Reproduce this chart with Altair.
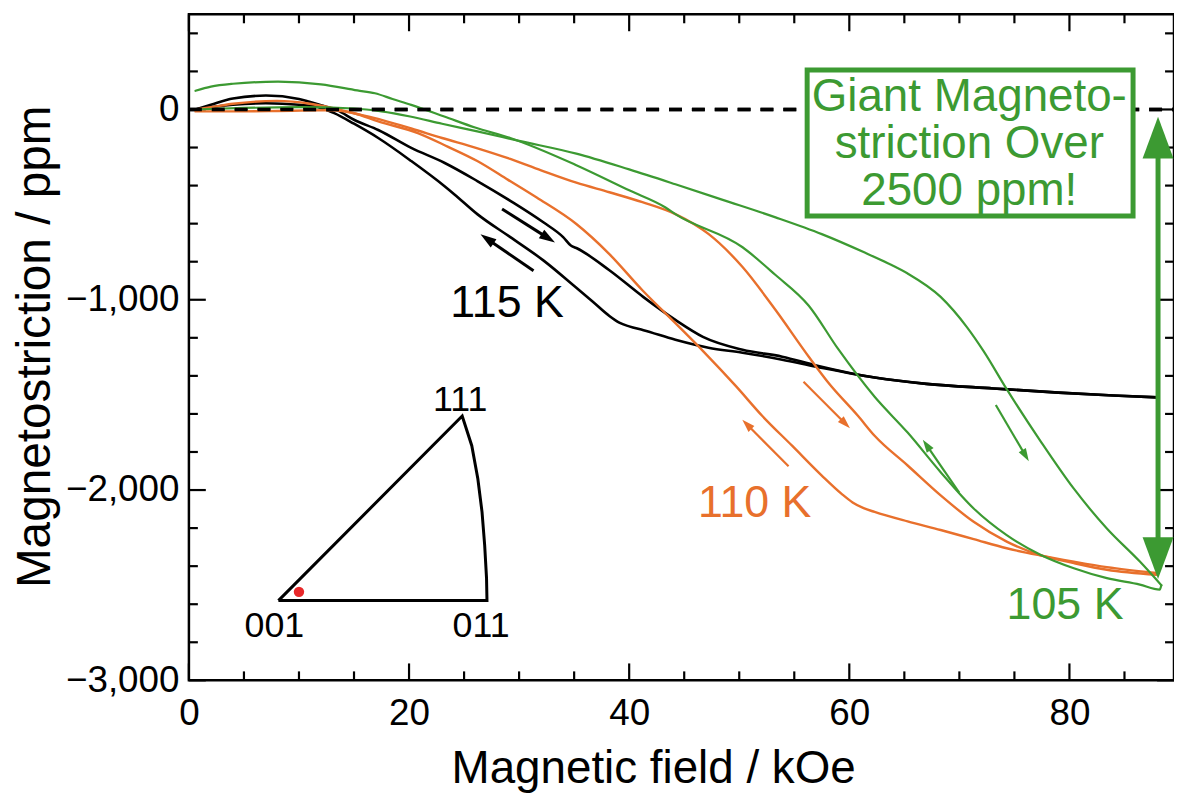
import math
import altair as alt
import pandas as pd

# ---------------- data ----------------
# 115 K, increasing field
K115_UP_X = [0.6, 2, 4, 7, 10, 12, 13.5, 15, 17.2, 20.2, 23.2, 26.2, 29.2, 32.2, 34.0, 34.7, 35.2, 38.2, 41.3, 44.2, 46.7, 50.3, 53.9, 57.0, 62.3, 67.0, 73.1, 79.0, 84.0, 88.0]
K115_UP_Y = [0, 25, 58, 73, 55, 22, -5, -54, -108, -202, -280, -376, -480, -593, -671, -715, -728, -845, -986, -1106, -1195, -1263, -1299, -1345, -1409, -1442, -1466, -1488, -1503, -1513]
# 115 K, decreasing field
K115_DN_X = [0.6, 2, 4, 7, 10, 12, 13.2, 15, 17.2, 20.2, 23.2, 24.1, 26.2, 29.2, 32.2, 35.2, 36.7, 38.2, 39.1, 40.0, 41.3, 44.2, 47.2, 50.3, 53.9, 57.0, 62.3, 67.0, 73.1, 79.0, 84.0, 88.0]
K115_DN_Y = [0, 12, 25, 33, 25, 8, -19, -75, -150, -271, -402, -445, -550, -671, -793, -937, -1010, -1085, -1120, -1140, -1160, -1210, -1252, -1278, -1315, -1352, -1409, -1442, -1466, -1488, -1503, -1513]
# 110 K, increasing field
K110_UP_X = [0.6, 2, 4, 8, 11, 13, 15, 17.5, 20.2, 23, 26, 29.2, 32, 35.2, 38.2, 41.2, 44.2, 47.2, 50.3, 53.3, 56.3, 58.1, 60.8, 62.3, 65.3, 68.3, 71.3, 74.3, 77.3, 80.4, 83.4, 87.9]
K110_UP_Y = [0, 12, 30, 45, 30, 8, -20, -55, -100, -150, -200, -260, -320, -385, -435, -487, -550, -654, -828, -1054, -1298, -1436, -1611, -1715, -1871, -2028, -2167, -2271, -2341, -2384, -2419, -2445]
# 110 K, decreasing field
K110_DN_X = [0.6, 4, 8, 11, 13, 15, 17.2, 20.8, 23.5, 26.2, 29.0, 31.6, 35.2, 38.2, 41.2, 44.2, 46.8, 49.7, 52.1, 54.8, 57.5, 59.3, 60.3, 61.3, 62.3, 65.3, 68.3, 71.3, 74.3, 77.3, 80.4, 83.4, 87.9]
K110_DN_Y = [-10, -10, -8, -5, -4, -20, -63, -124, -195, -271, -370, -463, -602, -760, -950, -1123, -1275, -1454, -1611, -1767, -1924, -2020, -2065, -2095, -2115, -2165, -2210, -2258, -2306, -2343, -2376, -2405, -2436]
# 105 K, increasing field
K105_UP_X = [0.6, 5, 10, 15, 17.5, 20.1, 23, 26.2, 30, 35.2, 40, 44.2, 48.5, 53.3, 57.5, 61.4, 63.5, 65.3, 68.3, 70.7, 72.2, 74.3, 77.4, 80.4, 83.4, 86.4, 88.35]
K105_UP_Y = [0, 8, 12, 5, -10, -37, -75, -115, -165, -232, -315, -393, -475, -567, -655, -752, -808, -862, -985, -1145, -1270, -1470, -1745, -1993, -2202, -2376, -2500]
# 105 K, decreasing field
K105_DN_X = [0.6, 2, 4, 8.1, 12, 15.3, 16.9, 18.5, 20.2, 23.2, 26.0, 29.2, 35.2, 40, 43.3, 44.2, 50.3, 53.3, 56.3, 59.0, 62.3, 65.3, 68.3, 71.3, 74.3, 77.4, 80.4, 83.4, 86.4, 88.2, 88.35]
K105_DN_Y = [98, 120, 135, 146, 132, 100, 85, 55, 24, -37, -95, -150, -293, -425, -515, -550, -724, -870, -1030, -1260, -1510, -1698, -1906, -2097, -2237, -2341, -2411, -2463, -2497, -2523, -2500]

# curve labels
LABEL_TEXT = ["115 K", "110 K", "105 K"]
LABEL_X = [28.9, 51.4, 79.6]
LABEL_Y = [-1020, -2070, -2603]

# direction arrows (tail -> tip)
ARROW_SERIES = ["115", "115", "110", "110", "105", "105"]
ARROW_TAIL_X = [28.45, 31.31, 55.84, 54.48, 73.31, 69.99]
ARROW_TAIL_Y = [-523, -848, -1431, -1875, -1553, -2014]
ARROW_TIP_X = [33.26, 26.49, 60.06, 50.28, 76.31, 66.68]
ARROW_TIP_Y = [-699, -656, -1675, -1631, -1849, -1736]

# "Giant Magnetostriction" box and double arrow
BOX_TEXT = "Giant Magneto-\nstriction Over\n2500 ppm!"
BOX_X = [56.17, 85.78]
BOX_Y = [207, -560]
BOX_TEXT_X = 70.9
BOX_TEXT_Y = 64
BIG_ARROW_X = 88.05
BIG_ARROW_TOP = -38
BIG_ARROW_BOTTOM = -2467

# inset: stereographic triangle
TRI_X = [8.13, 27.08, 27.04, 26.87, 26.63, 26.25, 25.70, 24.83, 8.13]
TRI_Y = [-2581, -2581, -2463, -2289, -2115, -1941, -1767, -1611, -2581]
TRI_LABELS = ["111", "001", "011"]
TRI_LABEL_X = [24.65, 7.77, 26.55]
TRI_LABEL_Y = [-1527, -2713, -2713]
DOT_X = [10.0]
DOT_Y = [-2535]

# axis ticks
X_MAJOR = [0, 20, 40, 60, 80]
X_MINOR = [5, 10, 15, 25, 30, 35, 45, 50, 55, 65, 70, 75, 85]
Y_MAJOR = [-3000, -2000, -1000, 0]
Y_MINOR = [-2800, -2600, -2400, -2200, -1800, -1600, -1400, -1200, -800, -600, -400, -200, 200, 400]

# ---------------- styling ----------------
W, H = 991, 670
X_MAX = 89.5
Y_MIN, Y_MAX = -3000, 500
SX = W / X_MAX
SY = H / (Y_MAX - Y_MIN)
FONT = "Liberation Sans"
BLACK = "#000000"
ORANGE = "#E8702C"
GREEN = "#3C9A32"
RED = "#E8282A"
COLORS = {"115": BLACK, "110": ORANGE, "105": GREEN}

xsc = alt.Scale(domain=[0, X_MAX], nice=False, zero=False)
ysc = alt.Scale(domain=[Y_MIN, Y_MAX], nice=False, zero=False)

X_AXIS = alt.Axis(values=X_MAJOR, format="d", ticks=False, domain=False, grid=False,
                  labelFontSize=37, labelFont=FONT, labelColor=BLACK, labelPadding=15,
                  labelFlush=False, labelOverlap=False,
                  title="Magnetic field / kOe", titleFont=FONT, titleFontSize=46,
                  titleFontWeight="normal", titleColor=BLACK,
                  titleX=467, titleY=103, titleBaseline="alphabetic", titleAlign="center")
Y_AXIS = alt.Axis(values=Y_MAJOR, format=",d", ticks=False, domain=False, grid=False,
                  labelFontSize=37, labelFont=FONT, labelColor=BLACK, labelPadding=10,
                  labelFlush=False, labelOverlap=False,
                  title="Magnetostriction / ppm", titleFont=FONT, titleFontSize=48,
                  titleFontWeight="normal", titleColor=BLACK,
                  titleX=-140, titleY=334, titleAngle=270, titleBaseline="alphabetic",
                  titleAlign="center")


def ex(field="x"):
    return alt.X(f"{field}:Q", scale=xsc, axis=X_AXIS)


def ey(field="y"):
    return alt.Y(f"{field}:Q", scale=ysc, axis=Y_AXIS)


def curve(name, xv, yv):
    return pd.DataFrame({"name": name, "i": list(range(len(xv))), "x": xv, "y": yv})


def lines(df, color, width):
    return alt.Chart(df).mark_line(color=color, strokeWidth=width, strokeJoin="round", strokeCap="round",
                                   interpolate="monotone").encode(
        x=ex(), y=ey(), detail="name:N", order="i:Q")


layers = []

# zero dashed line
zero_df = pd.DataFrame({"x": [0, X_MAX], "y": [0, 0]})
zero_layer = alt.Chart(zero_df).mark_line(color=BLACK, strokeWidth=3.5, strokeDash=[13, 10]).encode(
    x=ex(), y=ey())
layers.append(zero_layer)


# ticks (inward, on all four sides)
def tick_layer(vals, orient, length):
    df = pd.DataFrame({"v": vals})
    m = alt.Chart(df).mark_rule(color=BLACK, strokeWidth=2.2)
    if orient == "bottom":
        return m.encode(x=ex("v"), y=alt.value(H), y2=alt.value(H - length))
    if orient == "top":
        return m.encode(x=ex("v"), y=alt.value(0), y2=alt.value(length))
    if orient == "left":
        return m.encode(y=ey("v"), x=alt.value(0), x2=alt.value(length))
    return m.encode(y=ey("v"), x=alt.value(W), x2=alt.value(W - length))


for o in ["bottom", "top"]:
    layers.append(tick_layer(X_MAJOR, o, 17))
    layers.append(tick_layer(X_MINOR, o, 9))
for o in ["left", "right"]:
    layers.append(tick_layer(Y_MAJOR, o, 17))
    layers.append(tick_layer(Y_MINOR, o, 9))

# curves
layers.append(lines(pd.concat([curve("115up", K115_UP_X, K115_UP_Y), curve("115dn", K115_DN_X, K115_DN_Y)]), BLACK, 2.6))
layers.append(lines(pd.concat([curve("110up", K110_UP_X, K110_UP_Y), curve("110dn", K110_DN_X, K110_DN_Y)]), ORANGE, 2.4))
layers.append(lines(pd.concat([curve("105up", K105_UP_X, K105_UP_Y), curve("105dn", K105_DN_X, K105_DN_Y)]), GREEN, 2.2))

# dashed zero line drawn again on top of the curves
layers.append(zero_layer)

# box with text
box_df = pd.DataFrame({"x": [BOX_X[0]], "x2": [BOX_X[1]], "y": [BOX_Y[0]], "y2": [BOX_Y[1]]})
layers.append(alt.Chart(box_df).mark_rect(fill="white", stroke=GREEN, strokeWidth=5).encode(
    x=ex("x"), x2="x2:Q", y=ey("y"), y2="y2:Q"))
btxt_df = pd.DataFrame({"x": [BOX_TEXT_X], "y": [BOX_TEXT_Y], "t": [BOX_TEXT]})
layers.append(alt.Chart(btxt_df).mark_text(font=FONT, fontSize=46, color=GREEN, align="center",
                                           baseline="middle", lineBreak="\n", lineHeight=47).encode(
    x=ex(), y=ey(), text="t:N"))

# big double arrow
big_shaft = pd.DataFrame({"x": [BIG_ARROW_X], "y": [BIG_ARROW_TOP - 30 / SY], "y2": [BIG_ARROW_BOTTOM + 30 / SY]})
layers.append(alt.Chart(big_shaft).mark_rule(color=GREEN, strokeWidth=5).encode(x=ex(), y=ey(), y2="y2:Q"))
big_heads = pd.DataFrame({"x": [BIG_ARROW_X, BIG_ARROW_X], "y": [BIG_ARROW_TOP, BIG_ARROW_BOTTOM], "angle": [0, 180]})
layers.append(alt.Chart(big_heads).mark_point(shape="M0,0 L0.74,2 L-0.74,2 Z", filled=True, opacity=1,
                                              strokeWidth=0, color=GREEN, size=42 * 42).encode(
    x=ex(), y=ey(), angle=alt.Angle("angle:Q", scale=None)))

# small direction arrows
shafts, heads = [], []
for s, tx, ty, hx, hy in zip(ARROW_SERIES, ARROW_TAIL_X, ARROW_TAIL_Y, ARROW_TIP_X, ARROW_TIP_Y):
    dxp = (hx - tx) * SX
    dyp = (hy - ty) * SY
    L = math.hypot(dxp, dyp)
    hl = 16 if s == "115" else 13
    back = hl * 0.6
    shafts.append({"s": s, "x": tx, "y": ty, "x2": hx - dxp / L * back / SX, "y2": hy - dyp / L * back / SY})
    heads.append({"s": s, "x": hx, "y": hy, "angle": math.degrees(math.atan2(dxp, dyp)) % 360})
shafts = pd.DataFrame(shafts)
heads = pd.DataFrame(heads)
for s, w, hl in [("115", 3.0, 16), ("110", 2.2, 13), ("105", 2.2, 13)]:
    layers.append(alt.Chart(shafts[shafts.s == s]).mark_rule(color=COLORS[s], strokeWidth=w).encode(
        x=ex(), y=ey(), x2="x2:Q", y2="y2:Q"))
    layers.append(alt.Chart(heads[heads.s == s]).mark_point(shape="M0,0 L0.32,1 L-0.32,1 Z", filled=True,
                                                            opacity=1, strokeWidth=0, color=COLORS[s],
                                                            size=(2 * hl) ** 2).encode(
        x=ex(), y=ey(), angle=alt.Angle("angle:Q", scale=None)))

# curve labels
lab_df = pd.DataFrame({"x": LABEL_X, "y": LABEL_Y, "t": LABEL_TEXT,
                       "c": [BLACK, ORANGE, GREEN]})
layers.append(alt.Chart(lab_df).mark_text(font=FONT, fontSize=45, align="center", baseline="middle").encode(
    x=ex(), y=ey(), text="t:N", color=alt.Color("c:N", scale=None)))

# inset triangle
tri_df = pd.DataFrame({"i": list(range(len(TRI_X))), "x": TRI_X, "y": TRI_Y})
layers.append(alt.Chart(tri_df).mark_line(color=BLACK, strokeWidth=3, strokeJoin="miter").encode(
    x=ex(), y=ey(), order="i:Q"))
dot_df = pd.DataFrame({"x": DOT_X, "y": DOT_Y})
layers.append(alt.Chart(dot_df).mark_point(shape="circle", filled=True, opacity=1, color=RED, size=110).encode(
    x=ex(), y=ey()))
tl_df = pd.DataFrame({"x": TRI_LABEL_X, "y": TRI_LABEL_Y, "t": TRI_LABELS})
layers.append(alt.Chart(tl_df).mark_text(font=FONT, fontSize=36, color=BLACK, align="center", baseline="middle").encode(
    x=ex(), y=ey(), text="t:N"))

chart = alt.layer(*layers).properties(
    width=W, height=H,
    padding={"left": 182, "top": 4, "right": 0, "bottom": 115},
    autosize=alt.AutoSizeParams(type="none"),
).configure(font=FONT).configure_view(stroke=BLACK, strokeWidth=2.5)

chart.save("out.html", embed_options={"renderer": "svg", "actions": False})
